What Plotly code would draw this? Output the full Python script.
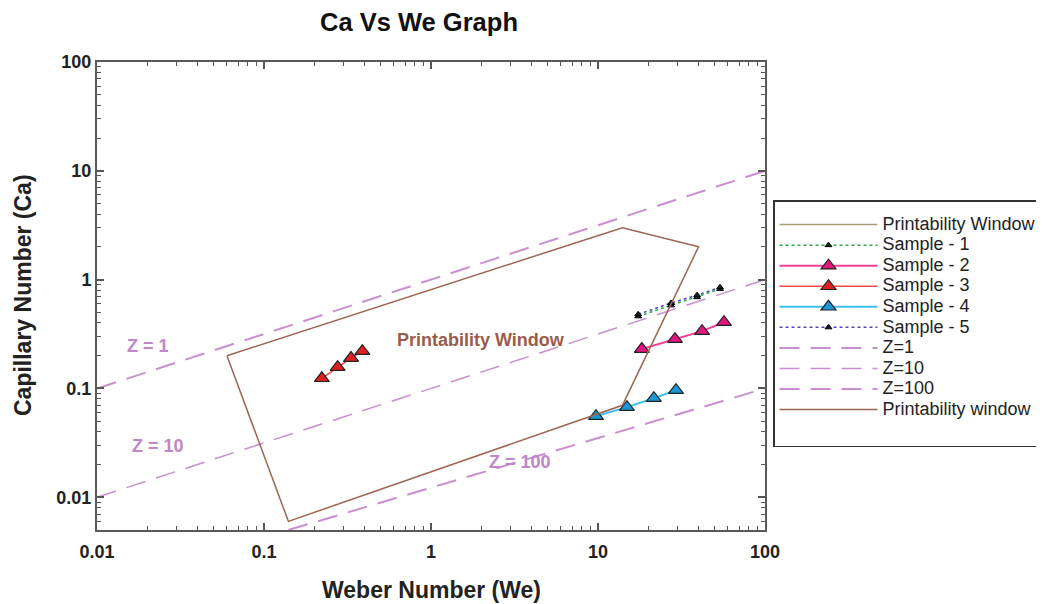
import plotly.graph_objects as go
import numpy as np

# ---------------- data ----------------
window_we = [0.06, 14, 40, 14, 0.14, 0.06]
window_ca = [0.2, 3.0, 2.0, 0.07, 0.006, 0.2]

s1_we = [17.4, 27.4, 39.2, 53.8]
s1_ca = [0.46, 0.58, 0.69, 0.82]
s2_we = [18.3, 28.9, 42.0, 56.8]
s2_ca = [0.23, 0.284, 0.336, 0.406]
s3_we = [0.222, 0.276, 0.332, 0.388]
s3_ca = [0.124, 0.157, 0.19, 0.22]
s4_we = [9.73, 14.9, 21.6, 29.3]
s4_ca = [0.0556, 0.0673, 0.0813, 0.0964]
s5_we = [17.4, 27.4, 39.2, 53.8]
s5_ca = [0.48, 0.61, 0.72, 0.85]

z1_we = [0.01, 100]
z1_ca = [0.1, 10]
z10_we = [0.01, 100]
z10_ca = [0.01, 1]
z100_we = [0.14, 100]
z100_ca = [0.005, 0.1]

tick_vals = [0.01, 0.1, 1, 10, 100]
tick_text = ["0.01", "0.1", "1", "10", "100"]
minor_vals = [m * 10.0 ** e for e in range(-3, 2) for m in range(2, 10)]

FONT = "Liberation Sans, Arial, sans-serif"
ZCOL = "#C98FD0"
BROWN = "#9E6450"

# page has an 8px body margin; the figure is sized to fit the window
OFF = 8
W, H = 1044 - OFF, 604 - OFF
PL, PR, PT, PB = 97, 765, 62, 530          # plot area in window pixels
ml, mt = PL - OFF, PT - OFF
mr, mb = W - (PR - OFF), H - (PB - OFF)
pw, ph = PR - PL, PB - PT


def px_x(x):
    return (x - PL) / pw


def px_y(y):
    return (PB - y) / ph


def lg(name):
    return '<span style="font-size:18px">' + name + '</span>'


fig = go.Figure()

fig.add_trace(go.Scatter(x=[None], y=[None], mode="lines", name=lg("Printability Window"),
                         line=dict(color="#A8A07A", width=1.5)))
fig.add_trace(go.Scatter(x=s1_we, y=s1_ca, mode="lines+markers", name=lg("Sample - 1"),
                         line=dict(color="#2FA84F", width=1.5, dash="dot"),
                         marker=dict(symbol="triangle-up", size=6, color="#1a2a20",
                                     line=dict(color="black", width=1))))
fig.add_trace(go.Scatter(x=s2_we, y=s2_ca, mode="lines+markers", name=lg("Sample - 2"),
                         line=dict(color="#F0409A", width=2),
                         marker=dict(symbol="triangle-up", size=13, color="#E2177E",
                                     line=dict(color="#222", width=1.2))))
fig.add_trace(go.Scatter(x=s3_we, y=s3_ca, mode="lines+markers", name=lg("Sample - 3"),
                         line=dict(color="#F04A4A", width=1.5),
                         marker=dict(symbol="triangle-up", size=13, color="#E0201E",
                                     line=dict(color="#222", width=1.2))))
fig.add_trace(go.Scatter(x=s4_we, y=s4_ca, mode="lines+markers", name=lg("Sample - 4"),
                         line=dict(color="#3CC0F0", width=2),
                         marker=dict(symbol="triangle-up", size=13, color="#1A98D5",
                                     line=dict(color="#222", width=1.2))))
fig.add_trace(go.Scatter(x=s5_we, y=s5_ca, mode="lines+markers", name=lg("Sample - 5"),
                         line=dict(color="#5048B8", width=1.5, dash="dot"),
                         marker=dict(symbol="triangle-up", size=6, color="#1a1a2a",
                                     line=dict(color="black", width=1))))
fig.add_trace(go.Scatter(x=z1_we, y=z1_ca, mode="lines", name=lg("Z=1"),
                         line=dict(color=ZCOL, width=2, dash="20px,11px")))
fig.add_trace(go.Scatter(x=z10_we, y=z10_ca, mode="lines", name=lg("Z=10"),
                         line=dict(color=ZCOL, width=1.5, dash="20px,11px")))
fig.add_trace(go.Scatter(x=z100_we, y=z100_ca, mode="lines", name=lg("Z=100"),
                         line=dict(color=ZCOL, width=2, dash="20px,11px")))
fig.add_trace(go.Scatter(x=window_we, y=window_ca, mode="lines", name=lg("Printability window"),
                         line=dict(color=BROWN, width=1.5)))
# blank entry: gives the legend box its bottom padding
fig.add_trace(go.Scatter(x=[None], y=[None], mode="lines", name=" ",
                         line=dict(color="rgba(0,0,0,0)", width=1)))

axis_common = dict(
    type="log", showgrid=False, zeroline=False,
    showline=True, linecolor="#5a5a5a", linewidth=2,
    ticks="inside", ticklen=7, tickwidth=1.5, tickcolor="#555",
    tickvals=tick_vals, ticktext=tick_text,
    tickfont=dict(family=FONT, size=18, color="#222", weight="bold"),
    minor=dict(ticks="inside", ticklen=4, tickcolor="#555", tickwidth=1,
               showgrid=False, tickmode="array", tickvals=minor_vals),
)

fig.update_xaxes(range=[-2, 2], mirror="ticks", ticklabelstandoff=4, **axis_common)
fig.update_yaxes(range=[np.log10(0.005), 2], mirror="ticks", **axis_common)

ann_font = dict(family=FONT, size=18, color="#C286C8", weight="bold")
fig.update_layout(
    width=W, height=H,
    margin=dict(l=ml, r=mr, t=mt, b=mb, autoexpand=False),
    paper_bgcolor="white", plot_bgcolor="white",
    title=dict(text="Ca Vs We Graph", x=(419 - OFF) / W, xanchor="center",
               y=1 - (22 - OFF) / H, yanchor="middle",
               font=dict(family=FONT, size=25.5, color="#111", weight="bold")),
    showlegend=True,
    legend=dict(x=px_x(773), y=px_y(200), xanchor="left", yanchor="top",
                bordercolor="#333", borderwidth=1.5, bgcolor="white",
                font=dict(family=FONT, size=13.5, color="#222"),
                title=dict(text=" ", font=dict(size=6)),
                itemwidth=98, tracegroupgap=0),
    annotations=[
        dict(x=np.log10(0.0202), y=np.log10(0.245), xref="x", yref="y", text="Z = 1",
             showarrow=False, font=ann_font),
        dict(x=np.log10(0.0232), y=np.log10(0.0294), xref="x", yref="y", text="Z = 10",
             showarrow=False, font=ann_font),
        dict(x=np.log10(3.41), y=np.log10(0.021), xref="x", yref="y", text="Z = 100",
             showarrow=False, font=ann_font),
        dict(x=np.log10(1.99), y=np.log10(0.278), xref="x", yref="y", text="Printability Window",
             showarrow=False, font=dict(family=FONT, size=18, color="#9A5C48", weight="bold")),
        dict(x=px_x(431), y=px_y(590), xref="paper", yref="paper", text="Weber Number (We)",
             xanchor="center", yanchor="middle",
             showarrow=False, font=dict(family=FONT, size=23, color="#222", weight="bold")),
        dict(x=px_x(23), y=px_y(295), xref="paper", yref="paper", text="Capillary Number (Ca)",
             xanchor="center", yanchor="middle",
             showarrow=False, textangle=-90,
             font=dict(family=FONT, size=23, color="#222", weight="bold")),
    ],
)

fig.write_html("out.html")
